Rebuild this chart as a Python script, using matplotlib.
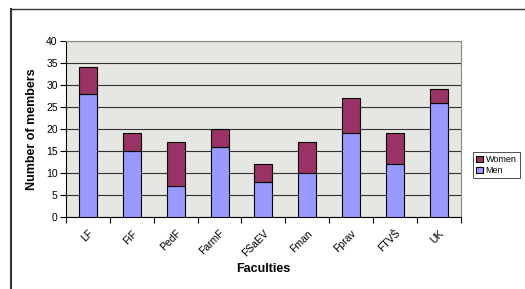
import numpy as np
import matplotlib.pyplot as plt
from matplotlib.lines import Line2D

# Data
faculties = ['LF', 'FiF', 'PedF', 'FarmF', 'FSaEV', 'Fman', 'Fprav', 'FTVŠ', 'UK']
men = [28, 15, 7, 16, 8, 10, 19, 12, 26]
women = [6, 4, 10, 4, 4, 7, 8, 7, 3]

plt.rcParams['font.family'] = ['Liberation Sans', 'DejaVu Sans']

fig = plt.figure(figsize=(5.25, 2.89), dpi=100)
ax = fig.add_axes([0.1257, 0.249, 0.752, 0.609])

x = np.arange(len(faculties))
ax.set_facecolor('#e6e6e2')
ax.bar(x, men, width=0.41, color='#9999ff', edgecolor='black', linewidth=0.8,
       label='Men', zorder=3)
ax.bar(x, women, width=0.41, bottom=men, color='#993366', edgecolor='black',
       linewidth=0.8, label='Women', zorder=3)

ax.set_xlim(-0.5, len(faculties) - 0.5)
ax.set_ylim(0, 40)
ax.set_yticks(range(0, 41, 5))
ax.yaxis.grid(True, color='#333333', linewidth=0.8, zorder=1)
ax.set_axisbelow(True)

# category boundaries get the tick marks, labels sit in the middle
ax.set_xticks(np.arange(-0.5, len(faculties), 1))
ax.set_xticklabels([])
ax.set_xticks(x, minor=True)
ax.set_xticklabels(faculties, minor=True, rotation=45, ha='right',
                   rotation_mode='anchor', fontsize=7.5)
ax.tick_params(axis='x', which='minor', length=0, pad=8)
ax.tick_params(axis='x', which='major', length=4, width=0.8)
ax.tick_params(axis='y', length=4, width=0.8, labelsize=7.5, pad=2)

for s in ['top', 'right']:
    ax.spines[s].set_color('#888888')
ax.spines['left'].set_color('black')
ax.spines['bottom'].set_color('black')

ax.set_ylabel('Number of members', fontsize=9, fontweight='bold', labelpad=6)
ax.set_xlabel('Faculties', fontsize=9, fontweight='bold', labelpad=3)

handles, labels = ax.get_legend_handles_labels()
leg = fig.legend(handles[::-1], labels[::-1], loc='upper left',
                 bbox_to_anchor=(0.893, 0.49), fontsize=6.5, frameon=True,
                 fancybox=False, edgecolor='black', handlelength=0.7,
                 handleheight=0.7, handletextpad=0.3, borderpad=0.35,
                 labelspacing=0.25)
leg.get_frame().set_linewidth(0.6)

# outer chart frame (only top and left edges visible)
fig.add_artist(Line2D([0.021, 0.021], [0, 0.969], color='#333333', lw=1.5))
fig.add_artist(Line2D([0.021, 1.0], [0.969, 0.969], color='#333333', lw=1.0))

fig.savefig('out.png', dpi=100)
